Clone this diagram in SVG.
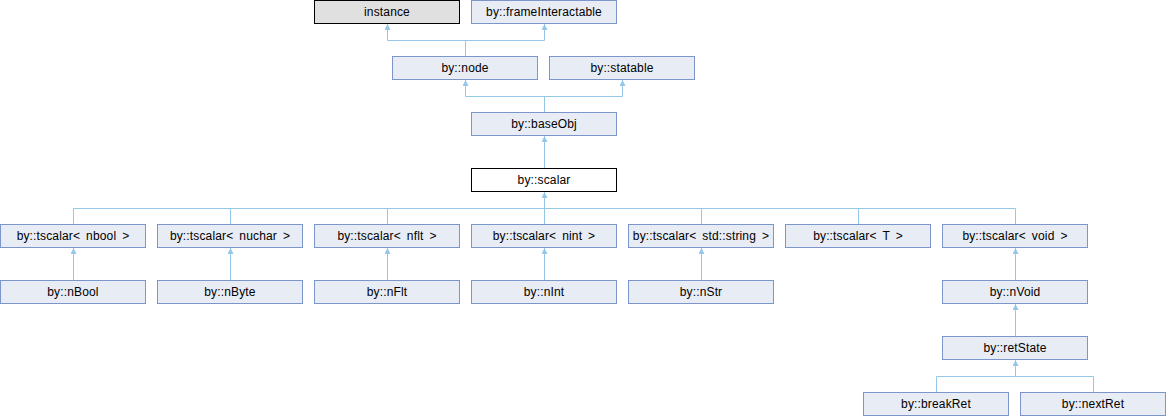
<svg xmlns="http://www.w3.org/2000/svg" width="1167" height="416" viewBox="0 0 1167 416">
<style>
.b{fill:#E8ECF5;stroke:#7C95CA;stroke-width:1}
.bk{stroke:#000;stroke-width:1}
.t{font-family:"Liberation Sans",Arial,sans-serif;font-size:12px;text-anchor:middle;fill:#000;letter-spacing:0.15px;word-spacing:2.5px}
.c{fill:none;stroke:#94C8E8;stroke-width:1}
.a{marker-end:url(#arr)}
</style>
<defs>
<marker id="arr" markerUnits="userSpaceOnUse" viewBox="0 0 6 6" refX="6" refY="3" markerWidth="6" markerHeight="6" orient="auto">
<path d="M0,0 L6,3 L0,6 z" fill="#94C8E8"/>
</marker>
</defs>
<rect width="1167" height="416" fill="#fff"/>
<g id="connectors">
<path class="c" d="M387.5,40.5 H544.5 M465.5,56 V40.5"/>
<path class="c a" d="M387.5,40.5 V24"/>
<path class="c a" d="M544.5,40.5 V24"/>
<path class="c" d="M465.5,96.5 H622.5 M544.5,112 V96.5"/>
<path class="c a" d="M465.5,96.5 V80"/>
<path class="c a" d="M622.5,96.5 V80"/>
<path class="c a" d="M544.5,168 V136"/>
<path class="c" d="M73.5,208.5 H1015.5 M73.5,224 V208.5 M230.5,224 V208.5 M387.5,224 V208.5 M701.5,224 V208.5 M858.5,224 V208.5 M1015.5,224 V208.5 M544.5,224 V208.5"/>
<path class="c a" d="M544.5,208.5 V192"/>
<path class="c a" d="M73.5,280 V248"/>
<path class="c a" d="M230.5,280 V248"/>
<path class="c a" d="M387.5,280 V248"/>
<path class="c a" d="M544.5,280 V248"/>
<path class="c a" d="M701.5,280 V248"/>
<path class="c a" d="M1015.5,280 V248"/>
<path class="c a" d="M1015.5,336 V304"/>
<path class="c" d="M936.5,376.5 H1093.5 M936.5,392 V376.5 M1093.5,392 V376.5"/>
<path class="c a" d="M1015.5,376.5 V360"/>
</g>
<g id="instance"><rect class="bk" x="314.5" y="0.5" width="145" height="23" fill="#E0E0E0"/><text class="t" x="387" y="16">instance</text></g>
<g id="frameInteractable"><rect class="b" x="471.5" y="0.5" width="145" height="23"/><text class="t" x="544" y="16">by::frameInteractable</text></g>
<g id="node"><rect class="b" x="392.5" y="56.5" width="145" height="23"/><text class="t" x="465" y="72">by::node</text></g>
<g id="statable"><rect class="b" x="549.5" y="56.5" width="145" height="23"/><text class="t" x="622" y="72">by::statable</text></g>
<g id="baseObj"><rect class="b" x="471.5" y="112.5" width="145" height="23"/><text class="t" x="544" y="128">by::baseObj</text></g>
<g id="scalar"><rect class="bk" x="471.5" y="168.5" width="145" height="23" fill="#fff"/><text class="t" x="544" y="184">by::scalar</text></g>
<g id="tscalar_nbool"><rect class="b" x="0.5" y="224.5" width="145" height="23"/><text class="t" x="73" y="240">by::tscalar&lt; nbool &gt;</text></g>
<g id="tscalar_nuchar"><rect class="b" x="157.5" y="224.5" width="145" height="23"/><text class="t" x="230" y="240">by::tscalar&lt; nuchar &gt;</text></g>
<g id="tscalar_nflt"><rect class="b" x="314.5" y="224.5" width="145" height="23"/><text class="t" x="387" y="240">by::tscalar&lt; nflt &gt;</text></g>
<g id="tscalar_nint"><rect class="b" x="471.5" y="224.5" width="145" height="23"/><text class="t" x="544" y="240">by::tscalar&lt; nint &gt;</text></g>
<g id="tscalar_string"><rect class="b" x="628.5" y="224.5" width="145" height="23"/><text class="t" x="701" y="240">by::tscalar&lt; std::string &gt;</text></g>
<g id="tscalar_T"><rect class="b" x="785.5" y="224.5" width="145" height="23"/><text class="t" x="858" y="240">by::tscalar&lt; T &gt;</text></g>
<g id="tscalar_void"><rect class="b" x="942.5" y="224.5" width="145" height="23"/><text class="t" x="1015" y="240">by::tscalar&lt; void &gt;</text></g>
<g id="nBool"><rect class="b" x="0.5" y="280.5" width="145" height="23"/><text class="t" x="73" y="296">by::nBool</text></g>
<g id="nByte"><rect class="b" x="157.5" y="280.5" width="145" height="23"/><text class="t" x="230" y="296">by::nByte</text></g>
<g id="nFlt"><rect class="b" x="314.5" y="280.5" width="145" height="23"/><text class="t" x="387" y="296">by::nFlt</text></g>
<g id="nInt"><rect class="b" x="471.5" y="280.5" width="145" height="23"/><text class="t" x="544" y="296">by::nInt</text></g>
<g id="nStr"><rect class="b" x="628.5" y="280.5" width="145" height="23"/><text class="t" x="701" y="296">by::nStr</text></g>
<g id="nVoid"><rect class="b" x="942.5" y="280.5" width="145" height="23"/><text class="t" x="1015" y="296">by::nVoid</text></g>
<g id="retState"><rect class="b" x="942.5" y="336.5" width="145" height="23"/><text class="t" x="1015" y="352">by::retState</text></g>
<g id="breakRet"><rect class="b" x="863.5" y="392.5" width="145" height="23"/><text class="t" x="936" y="408">by::breakRet</text></g>
<g id="nextRet"><rect class="b" x="1020.5" y="392.5" width="145" height="23"/><text class="t" x="1093" y="408">by::nextRet</text></g>
</svg>
